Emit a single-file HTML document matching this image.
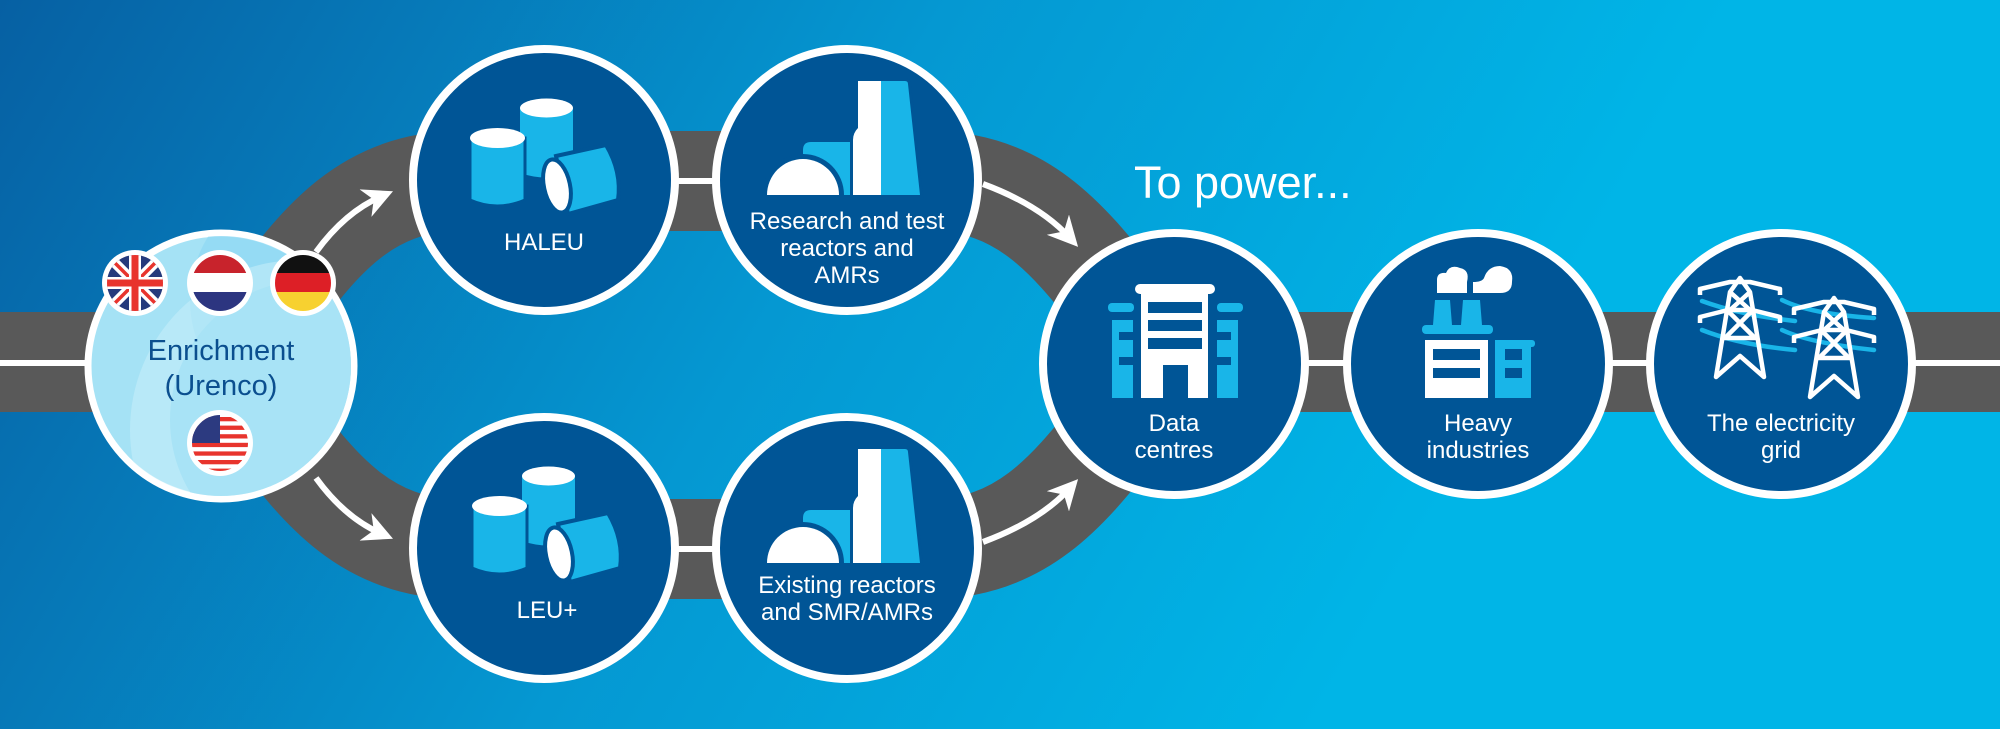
<!DOCTYPE html>
<html><head><meta charset="utf-8"><style>
html,body{margin:0;padding:0;width:2000px;height:729px;overflow:hidden}
svg{display:block}
text{font-family:"Liberation Sans",sans-serif}
</style></head><body>
<svg width="2000" height="729" viewBox="0 0 2000 729" xmlns="http://www.w3.org/2000/svg">
<defs>
<linearGradient id="bg" gradientUnits="userSpaceOnUse" x1="0" y1="0" x2="1300" y2="750">
<stop offset="0" stop-color="#0660a3"/><stop offset="0.55" stop-color="#0598d2"/><stop offset="1" stop-color="#00b5e7"/>
</linearGradient>
<marker id="ah" viewBox="0 0 10 10" refX="6" refY="5" markerWidth="5" markerHeight="5" orient="auto" markerUnits="strokeWidth">
<path d="M0,0 L10,5 L0,10 L3,5 z" fill="#fff"/></marker>
<clipPath id="ec"><circle cx="221" cy="366" r="130"/></clipPath>
<g id="cyl">
<path d="M520,108 L520,173 Q546,182 573,173 L573,108 z" fill="#19b5e8"/>
<ellipse cx="546.5" cy="108" rx="26.5" ry="9.5" fill="#fff"/>
<path d="M470,138 L470,200 Q497,212 525,200 L525,138 z" fill="#19b5e8" stroke="#005596" stroke-width="3"/>
<ellipse cx="497.5" cy="138" rx="27.5" ry="10" fill="#fff"/>
<path d="M556,156 L606,145 Q622,172 618,200 L568,214 z" fill="#19b5e8" stroke="#005596" stroke-width="4"/>
<ellipse cx="557" cy="186" rx="13" ry="27" transform="rotate(-12 557 186)" fill="#fff" stroke="#005596" stroke-width="4"/>
</g>
<g id="reac">
<path d="M803,195 L803,150 Q803,142 811,142 L852,142 Q858,142 858,150 L858,195 z" fill="#19b5e8"/>
<path d="M762,195 A41,41 0 0 1 844,195 z" fill="#005596"/>
<path d="M767,195 A36,36 0 0 1 839,195 z" fill="#fff"/>
<path d="M858,81 L905,81 Q908,81 908,84 L920,195 L853,195 L853,140 Q853,133 858,128 z" fill="#005596" stroke="#005596" stroke-width="6"/>
<path d="M858,81 L881,81 L881,195 L853,195 L853,140 Q853,133 858,128 z" fill="#fff"/>
<path d="M881,81 L905,81 Q908,81 908,84 L920,195 L881,195 z" fill="#19b5e8"/>
</g>
<g id="pyl" fill="none" stroke="#fff" stroke-width="4.5" stroke-linejoin="round">
<path d="M0,0 L-10,14 L-24,99 L0,78 L24,99 L10,14 z"/>
<path d="M-40,17 L-40,11 L-10,4 L10,4 L40,11 L40,17"/>
<path d="M-40,45 L-40,39 L-12,32 L12,32 L40,39 L40,45"/>
<path d="M-10,14 L10,32 M10,14 L-10,32 M-13,32 L15,60 M13,32 L-15,60 M-17,60 L17,60"/>
</g>
</defs>
<rect width="2000" height="729" fill="url(#bg)"/>

<!-- roads -->
<g fill="none" stroke="#595959" stroke-width="100">
<path d="M0,362 L221,362"/>
<path d="M1174,362 L2000,362"/>
<path d="M221,366 C290,300 330,181 460,181 L930,181 C1060,181 1100,300 1175,364"/>
<path d="M221,366 C290,432 330,549 460,549 L930,549 C1060,549 1100,430 1175,366"/>
</g>
<g stroke="#fff" stroke-width="6">
<line x1="0" y1="363" x2="221" y2="363"/>
<line x1="1174" y1="363" x2="2000" y2="363"/>
<line x1="640" y1="181" x2="760" y2="181"/>
<line x1="640" y1="549" x2="760" y2="549"/>
</g>
<g fill="none" stroke="#fff" stroke-width="6" marker-end="url(#ah)">
<path d="M316,252 Q345,212 382,196"/>
<path d="M316,478 Q345,518 382,534"/>
<path d="M983,184 Q1040,205 1070,238"/>
<path d="M983,542 Q1040,521 1070,488"/>
</g>

<g fill="#005596" stroke="#fff" stroke-width="8">
<circle cx="544" cy="180" r="131"/>
<circle cx="847" cy="180" r="131"/>
<circle cx="544" cy="548" r="131"/>
<circle cx="847" cy="548" r="131"/>
<circle cx="1174" cy="364" r="131"/>
<circle cx="1478" cy="364" r="131"/>
<circle cx="1781" cy="364" r="131"/>
</g>

<circle cx="221" cy="366" r="133" fill="#a5e2f5" stroke="#fff" stroke-width="7"/>
<g clip-path="url(#ec)">
<circle cx="310" cy="300" r="120" fill="#8ed9f3" opacity="0.7"/>
<circle cx="300" cy="430" r="170" fill="#c9eefa" opacity="0.55"/>
<circle cx="310" cy="420" r="140" fill="#a8e3f6"/>
</g>
<text x="221" y="360" font-size="29" fill="#0b4f8f" text-anchor="middle">Enrichment</text>
<text x="221" y="395" font-size="29" fill="#0b4f8f" text-anchor="middle">(Urenco)</text>
<g>
<circle cx="135" cy="283" r="33" fill="#fff"/>
<circle cx="135" cy="283" r="28" fill="#253a7c"/>
<clipPath id="uk"><circle cx="135" cy="283" r="28"/></clipPath>
<g clip-path="url(#uk)">
<path d="M105,253 L165,313 M165,253 L105,313" stroke="#fff" stroke-width="10"/>
<path d="M105,253 L165,313 M165,253 L105,313" stroke="#e8342d" stroke-width="3.5"/>
<rect x="105" y="277" width="60" height="12" fill="#fff"/><rect x="129" y="253" width="12" height="60" fill="#fff"/>
<rect x="105" y="279.5" width="60" height="7" fill="#e8342d"/><rect x="131.5" y="253" width="7" height="60" fill="#e8342d"/>
</g>
<circle cx="220" cy="283" r="33" fill="#fff"/>
<clipPath id="nl"><circle cx="220" cy="283" r="28"/></clipPath>
<g clip-path="url(#nl)"><rect x="190" y="253" width="60" height="20" fill="#c8232c"/><rect x="190" y="273" width="60" height="19" fill="#fff"/><rect x="190" y="292" width="60" height="22" fill="#2c3580"/></g>
<circle cx="303" cy="283" r="33" fill="#fff"/>
<clipPath id="de"><circle cx="303" cy="283" r="28"/></clipPath>
<g clip-path="url(#de)"><rect x="273" y="253" width="60" height="20" fill="#111"/><rect x="273" y="273" width="60" height="19" fill="#dd1f26"/><rect x="273" y="292" width="60" height="22" fill="#f7d130"/></g>
<circle cx="220" cy="443" r="33" fill="#fff"/>
<clipPath id="us"><circle cx="220" cy="443" r="28"/></clipPath>
<g clip-path="url(#us)"><rect x="190" y="413" width="60" height="60" fill="#fff"/>
<g fill="#e8342d"><rect x="190" y="417" width="60" height="4.3"/><rect x="190" y="425.6" width="60" height="4.3"/><rect x="190" y="434.2" width="60" height="4.3"/><rect x="190" y="442.8" width="60" height="4.3"/><rect x="190" y="451.4" width="60" height="4.3"/><rect x="190" y="460" width="60" height="4.3"/><rect x="190" y="468.6" width="60" height="4.3"/></g>
<rect x="190" y="413" width="30" height="30" fill="#2c3a80"/></g>
</g>

<use href="#cyl"/>
<use href="#cyl" transform="translate(2,368)"/>
<use href="#reac"/>
<use href="#reac" transform="translate(0,368)"/>

<g>
<rect x="1135" y="284" width="80" height="10" rx="5" fill="#fff"/>
<rect x="1141" y="292" width="67" height="106" fill="#fff"/>
<g fill="#005596"><rect x="1148" y="302" width="54" height="11"/><rect x="1148" y="320" width="54" height="11"/><rect x="1148" y="338" width="54" height="11"/><rect x="1163" y="365" width="25" height="33"/></g>
<g fill="#19b5e8"><rect x="1108" y="303" width="26" height="9" rx="4"/><rect x="1112" y="320" width="21" height="78"/>
<rect x="1217" y="303" width="26" height="9" rx="4"/><rect x="1217" y="320" width="21" height="78"/></g>
<g fill="#005596"><rect x="1119" y="332" width="14" height="8"/><rect x="1119" y="357" width="14" height="8"/><rect x="1217" y="332" width="14" height="8"/><rect x="1217" y="357" width="14" height="8"/></g>
</g>
<g>
<path d="M1437,293 L1437,280 Q1437,272 1446,273 Q1450,264 1460,268 Q1470,270 1467,282 L1467,293 z M1473,293 L1473,282 Q1482,282 1484,278 Q1488,266 1500,266 Q1514,268 1512,282 Q1512,293 1500,293 z" fill="#fff"/>
<g fill="#19b5e8"><path d="M1435,300 L1450,300 L1452,325 L1433,325 z"/><path d="M1463,300 L1480,300 L1482,325 L1461,325 z"/>
<rect x="1422" y="325" width="71" height="9" rx="4"/><rect x="1495" y="340" width="36" height="58"/><rect x="1495" y="340" width="40" height="7" rx="3"/></g>
<rect x="1425" y="340" width="63" height="58" fill="#fff"/>
<g fill="#005596"><rect x="1433" y="349" width="47" height="11"/><rect x="1433" y="368" width="47" height="10"/><rect x="1505" y="349" width="17" height="11"/><rect x="1505" y="368" width="17" height="10"/></g>
</g>
<g fill="none" stroke="#19b5e8" stroke-width="4.5" stroke-linecap="round">
<path d="M1702,301 Q1740,315 1795,321"/><path d="M1702,330 Q1740,345 1795,350"/>
<path d="M1782,300 Q1810,314 1874,318"/><path d="M1782,330 Q1810,343 1874,350"/>
</g>
<use href="#pyl" transform="translate(1740,278)"/>
<use href="#pyl" transform="translate(1834,298)"/>

<g fill="#fff" font-size="24" text-anchor="middle">
<text x="544" y="250">HALEU</text>
<text x="847" y="229">Research and test</text>
<text x="847" y="256">reactors and</text>
<text x="847" y="283">AMRs</text>
<text x="547" y="618">LEU+</text>
<text x="847" y="593">Existing reactors</text>
<text x="847" y="620">and SMR/AMRs</text>
<text x="1174" y="431">Data</text>
<text x="1174" y="458">centres</text>
<text x="1478" y="431">Heavy</text>
<text x="1478" y="458">industries</text>
<text x="1781" y="431">The electricity</text>
<text x="1781" y="458">grid</text>
</g>
<text x="1134" y="198" font-size="45" fill="#fff">To power...</text>
</svg>
</body></html>
